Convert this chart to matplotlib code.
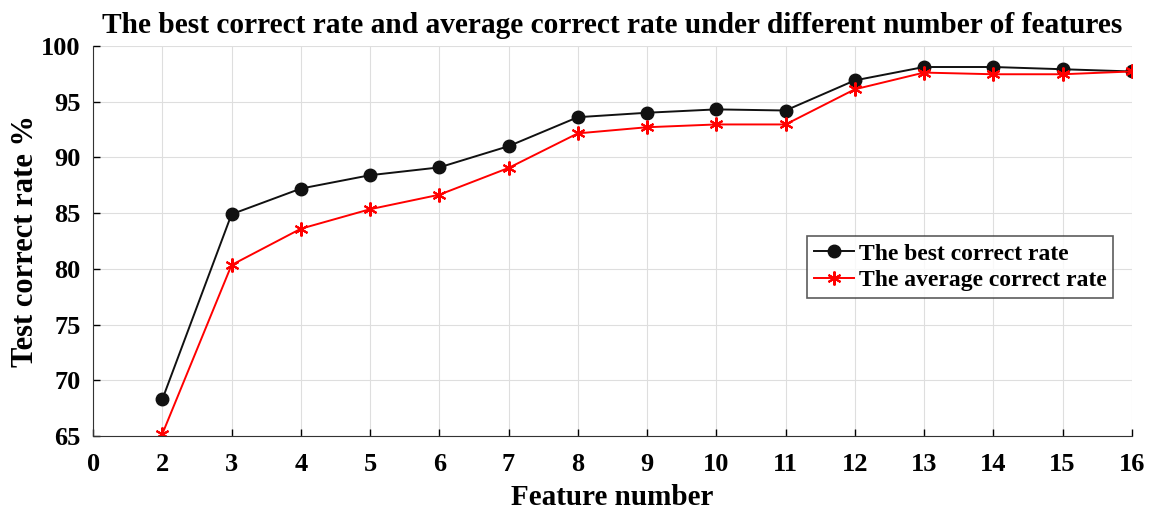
import numpy as np
import matplotlib
matplotlib.use("Agg")
import matplotlib.pyplot as plt

# Data
features = [2, 3, 4, 5, 6, 7, 8, 9, 10, 11, 12, 13, 14, 15, 16]
best_rate = [68.3, 84.9, 87.2, 88.4, 89.1, 91.0, 93.6, 94.0, 94.3, 94.2, 96.9, 98.1, 98.1, 97.9, 97.7]
avg_rate = [65.2, 80.35, 83.6, 85.35, 86.65, 89.05, 92.15, 92.7, 92.95, 92.95, 96.1, 97.6, 97.45, 97.45, 97.7]
tick_pos = list(range(1, 17))
tick_labels = ["0"] + [str(f) for f in features]

plt.rcParams["font.family"] = ["Liberation Serif", "DejaVu Serif"]
plt.rcParams["font.weight"] = "bold"

fig, ax = plt.subplots(figsize=(11.49, 5.09), dpi=100)
fig.subplots_adjust(left=0.081, right=0.985, top=0.91, bottom=0.143)

ax.plot(features, best_rate, color="#111111", marker="o", markersize=9, linewidth=1.4,
        label="The best correct rate")
ax.plot(features, avg_rate, color="red", marker=(6, 2, 0), markersize=10,
        markeredgewidth=1.5, linewidth=1.4, label="The average correct rate")

ax.set_xlim(1, 16)
ax.set_ylim(65, 100)
ax.set_xticks(tick_pos)
ax.set_xticklabels(tick_labels)
ax.set_yticks(np.arange(65, 101, 5))
ax.tick_params(direction="in", labelsize=19, length=5, width=1)
ax.tick_params(axis="x", pad=12)
ax.tick_params(axis="y", pad=9)
for lbl in ax.get_xticklabels() + ax.get_yticklabels():
    lbl.set_fontweight("bold")

ax.grid(True, color="#dedede", linewidth=0.8)
ax.spines["top"].set_visible(False)
ax.spines["right"].set_visible(False)
ax.spines["left"].set_color("#333333")
ax.spines["bottom"].set_color("#333333")

ax.set_title("The best correct rate and average correct rate under different number of features",
             fontsize=21.2, fontweight="bold", pad=9)
ax.set_xlabel("Feature number", fontsize=21, fontweight="bold", labelpad=6)
ax.set_ylabel("Test correct rate %", fontsize=22, fontweight="bold", labelpad=1)

leg = ax.legend(loc="upper left", bbox_to_anchor=(0.687, 0.513), fontsize=17,
                frameon=True, fancybox=False, edgecolor="#333333",
                handlelength=1.7, borderpad=0.3, labelspacing=0.2, handletextpad=0.2,
                borderaxespad=0)
leg.get_frame().set_linewidth(1.2)

plt.savefig("out.png")
